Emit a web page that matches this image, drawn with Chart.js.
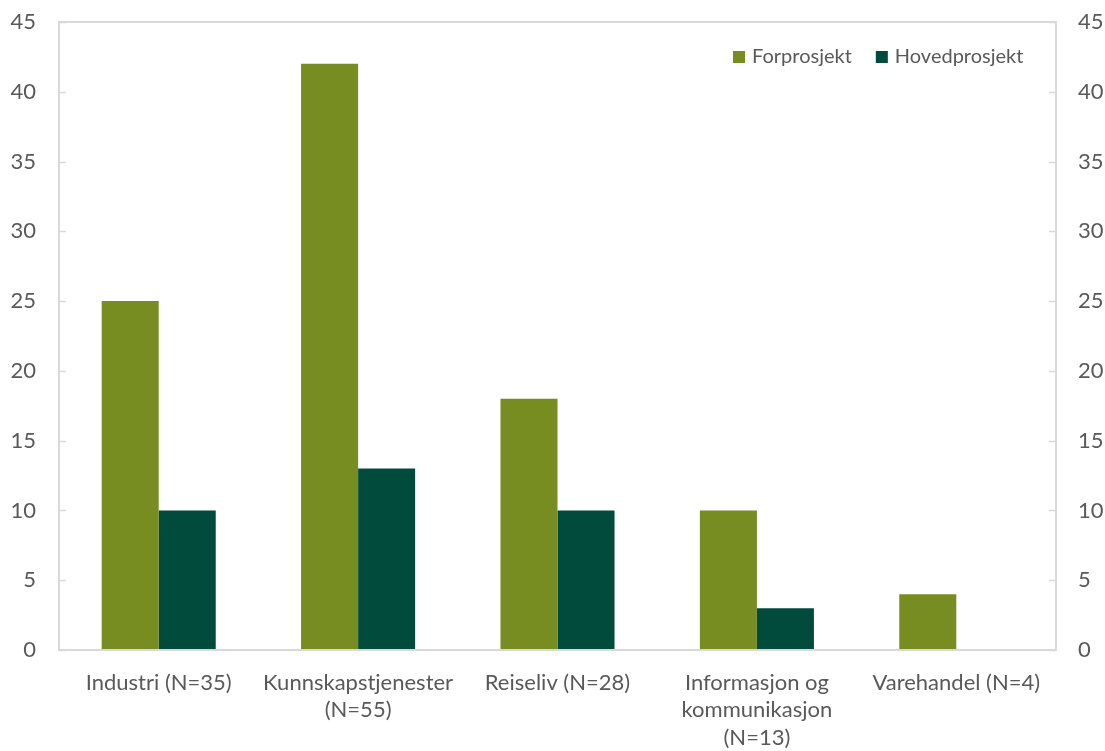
<!DOCTYPE html>
<html>
<head>
<meta charset="utf-8">
<script src="https://cdn.jsdelivr.net/npm/chart.js@4/dist/chart.umd.min.js"></script>
<style>
  html, body { margin: 0; padding: 0; background: #ffffff; }
  #wrap { width: 1105px; height: 751px; }
</style>
</head>
<body>
<div id="wrap"><canvas id="chart" width="1105" height="751"></canvas></div>
<script>
// Antall prosjekter per bransje
const categories = [
  'Industri (N=35)',
  ['Kunnskapstjenester', '(N=55)'],
  'Reiseliv (N=28)',
  ['Informasjon og', 'kommunikasjon', '(N=13)'],
  'Varehandel (N=4)'
];
const forprosjekt = [25, 42, 18, 10, 4];
const hovedprosjekt = [10, 13, 10, 3, 0];
const yTicks = [0, 5, 10, 15, 20, 25, 30, 35, 40, 45];

const FONT = 'Lato, "Open Sans", sans-serif';
const TEXT = '#595959';
const FRAME = '#d9d9d9';

// Frame around the plot area with short inward tick marks on both sides
const framePlugin = {
  id: 'frame',
  afterDatasetsDraw(chart) {
    const { ctx, chartArea: a } = chart;
    const y = chart.scales.y;
    ctx.save();
    ctx.strokeStyle = FRAME;
    ctx.lineWidth = 2;
    ctx.strokeRect(a.left, a.top, a.right - a.left, a.bottom - a.top);
    ctx.lineWidth = 1.5;
    ctx.beginPath();
    yTicks.forEach(v => {
      const py = Math.round(y.getPixelForValue(v)) + 0.5;
      ctx.moveTo(a.left, py); ctx.lineTo(a.left + 7, py);
      ctx.moveTo(a.right - 7, py); ctx.lineTo(a.right, py);
    });
    ctx.stroke();
    ctx.restore();
  }
};

// Legend drawn inside the plot area, top right
const insideLegend = {
  id: 'insideLegend',
  afterDraw(chart) {
    const { ctx } = chart;
    ctx.save();
    ctx.font = '20px ' + FONT;
    ctx.textBaseline = 'middle';
    ctx.textAlign = 'left';
    let x = 733;
    const yMid = 57;
    chart.data.datasets.forEach(ds => {
      ctx.fillStyle = ds.backgroundColor;
      ctx.fillRect(x, yMid - 6, 12, 12);
      ctx.fillStyle = TEXT;
      ctx.fillText(ds.label, x + 19, yMid);
      x += 19 + ctx.measureText(ds.label).width + 24;
    });
    ctx.restore();
  }
};

function fixY(width) {
  return s => {
    s.width = width;
    s.paddingTop = 0;
    s.paddingBottom = 0;
  };
}

new Chart(document.getElementById('chart'), {
  type: 'bar',
  data: {
    labels: categories,
    datasets: [
      { label: 'Forprosjekt', data: forprosjekt, backgroundColor: '#778C21', yAxisID: 'y' },
      { label: 'Hovedprosjekt', data: hovedprosjekt, backgroundColor: '#004B3B', yAxisID: 'y' }
    ]
  },
  options: {
    responsive: false,
    animation: false,
    devicePixelRatio: 1,
    layout: { padding: { top: 22, left: 0, right: 0, bottom: 0 } },
    datasets: { bar: { categoryPercentage: 0.572, barPercentage: 1.0, borderWidth: 0 } },
    plugins: { legend: { display: false }, tooltip: { enabled: false } },
    scales: {
      x: {
        grid: { display: false, drawTicks: false },
        border: { display: false },
        ticks: {
          color: TEXT, font: { family: FONT, size: 22, lineHeight: 1.25 },
          padding: 19, maxRotation: 0, autoSkip: false
        },
        afterFit(s) { s.height = 101; s.paddingLeft = 0; s.paddingRight = 0; }
      },
      y: {
        position: 'left', min: 0, max: 45,
        grid: { display: false, drawTicks: false },
        border: { display: false },
        afterBuildTicks(s) { s.ticks = yTicks.map(v => ({ value: v })); },
        ticks: { color: TEXT, font: { family: FONT, size: 22 }, padding: 23 },
        afterFit: fixY(59)
      },
      y2: {
        position: 'right', min: 0, max: 45,
        grid: { display: false, drawTicks: false },
        border: { display: false },
        afterBuildTicks(s) { s.ticks = yTicks.map(v => ({ value: v })); },
        ticks: { color: TEXT, font: { family: FONT, size: 22 }, padding: 22 },
        afterFit: fixY(49)
      }
    }
  },
  plugins: [framePlugin, insideLegend]
});
</script>
</body>
</html>
